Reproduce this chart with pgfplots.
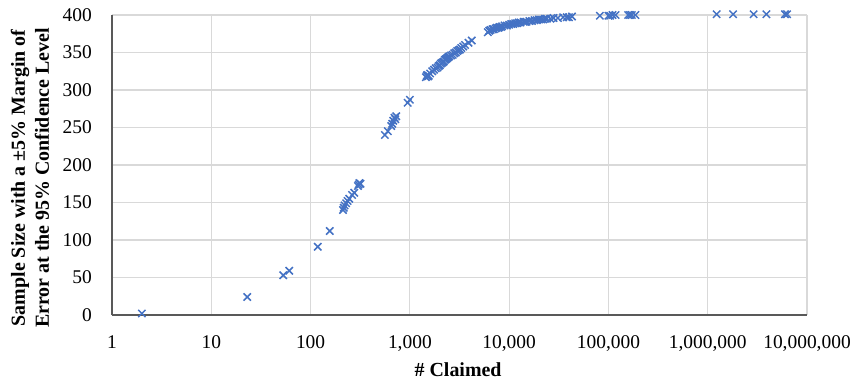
\documentclass[border=0pt]{standalone}
\usepackage{fontspec}
\setmainfont{Liberation Serif}
\usepackage{pgfplots}
\pgfplotsset{compat=1.18}
\definecolor{mk}{HTML}{4472C4}
\definecolor{gridc}{HTML}{D9D9D9}
\definecolor{axc}{HTML}{595959}
\begin{document}
\begin{tikzpicture}
\path[use as bounding box] (-112bp,-70bp) rectangle (743bp,315bp);
\begin{axis}[
  at={(0,0)}, anchor=south west,
  scale only axis, width=695bp, height=300bp,
  xmode=log, xmin=1, xmax=1e7, ymin=0, ymax=400,
  xtick={1,10,100,1000,10000,100000,1000000,10000000},
  xticklabels={1,10,100,{1,000},{10,000},{100,000},{1,000,000},{10,000,000}},
  ytick={0,50,100,150,200,250,300,350,400},
  yticklabels={0,50,100,150,200,250,300,350,400},
  xminorticks=false, yminorticks=false,
  grid=major, major grid style={gridc, line width=1.2bp},
  axis x line*=bottom, axis y line*=left,
  axis line style={axc, line width=1.5bp},
  major tick length=0pt,
  tick label style={font=\fontsize{19.5}{22}\selectfont, inner sep=0pt},
  xticklabel style={yshift=-20bp},
  yticklabel style={xshift=-20bp},
  label style={font=\bfseries\fontsize{20}{24}\selectfont},
  xlabel={\# Claimed},
  ylabel={Sample Size with a ±5\% Margin of\\Error at the 95\% Confidence Level},
  ylabel style={align=center, at={(axis description cs:-0.118,0.457)}, anchor=center},
  xlabel style={at={(axis description cs:0.498,-0.183)}, anchor=center},
  clip=false,
]
\addplot[only marks, mark=x, mark size=5.2bp, mk, line width=1.5bp] table {
x y
2 2
23 24
53 53
61 59
118 91
156 112
212 140
216 143
220 146
228 149
236 152
245 155
262 160
275 163
300 172
305 174
310 176
318 175
560 240
600 245
650 252
665 255
680 259
700 263
715 261
730 265
950 283
1000 287
1450 317
1480 319
1500 320
1520 318
1550 319
1600 322
1680 325
1750 327
1820 329
1900 330
1950 332
2000 333
2050 335
2100 336
2150 337
2200 338
2250 340
2300 341
2350 342
2400 343
2450 344
2500 345
2600 346
2700 347
2800 349
2900 350
3000 352
3100 353
3200 354
3300 356
3450 358
3600 360
3900 363
4200 366
6100 377
6300 379
6500 380
6800 381
7000 381
7300 382
7500 383
7800 383
8000 384
8300 384
8500 385
9000 386
9500 386
10000 387
10500 388
11000 388
11500 389
12000 389
12500 390
13000 390
14000 391
14500 391
15000 391
16000 392
17000 392
18000 393
19000 393
20000 394
21000 394
22000 394
23000 395
24000 395
26000 395
28000 396
31000 396
35000 397
38000 397
40000 397
43000 398
82000 399
100000 399
104000 399
110000 400
118000 400
158000 400
165000 400
172000 400
187000 400
1230000 401
1800000 401
2900000 401
3900000 401
6000000 401
6300000 401
};
\end{axis}
\end{tikzpicture}
\end{document}
